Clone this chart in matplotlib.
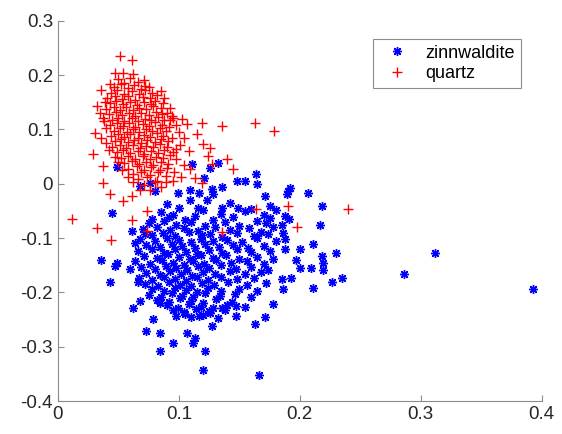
#%%
import numpy as np
from matplotlib import pyplot as plt

# %%
# Scores (x, y), one list per mineral.
# zinnwaldite: sparse outliers first, then the dense core
zinnwaldite_outer = [
    (0.049, 0.030), (0.045, -0.053), (0.068, -0.004), (0.076, 0.002), (0.080, -0.013),
    (0.111, 0.037), (0.126, 0.029), (0.132, 0.039), (0.121, 0.011), (0.148, 0.006),
    (0.155, 0.006), (0.164, 0.018), (0.165, 0.000), (0.136, -0.006), (0.127, -0.009),
    (0.109, -0.011), (0.117, -0.017), (0.128, -0.018), (0.099, -0.017), (0.109, -0.029),
    (0.123, -0.029), (0.171, -0.022), (0.190, -0.013), (0.136, -0.044), (0.149, -0.044),
    (0.116, -0.044), (0.192, -0.007), (0.189, -0.018), (0.207, -0.017), (0.218, -0.041),
    (0.188, -0.059), (0.191, -0.064), (0.217, -0.076), (0.185, -0.076), (0.186, -0.090),
    (0.188, -0.101), (0.211, -0.110), (0.188, -0.120), (0.200, -0.120), (0.230, -0.127),
    (0.218, -0.133), (0.197, -0.140), (0.219, -0.145), (0.200, -0.155), (0.209, -0.155),
    (0.219, -0.158), (0.312, -0.127), (0.286, -0.166), (0.193, -0.173), (0.235, -0.173),
    (0.227, -0.180), (0.185, -0.175), (0.211, -0.192), (0.186, -0.193), (0.393, -0.193),
    (0.098, -0.243), (0.105, -0.239), (0.117, -0.243), (0.126, -0.238), (0.136, -0.228),
    (0.147, -0.225), (0.147, -0.243), (0.178, -0.221), (0.171, -0.245), (0.163, -0.258),
    (0.127, -0.262), (0.107, -0.274), (0.113, -0.284), (0.112, -0.293), (0.095, -0.293),
    (0.122, -0.308), (0.120, -0.343), (0.166, -0.352), (0.073, -0.271), (0.084, -0.274),
    (0.084, -0.308), (0.079, -0.249), (0.036, -0.140), (0.049, -0.145), (0.047, -0.151),
    (0.043, -0.180), (0.060, -0.157), (0.066, -0.180), (0.062, -0.228), (0.068, -0.215),
    (0.084, -0.219), (0.064, -0.109), (0.061, -0.087), (0.072, -0.092),
]
zinnwaldite_core = [
    (0.090, -0.038), (0.100, -0.044), (0.142, -0.036), (0.160, -0.047), (0.175, -0.041),
    (0.085, -0.052), (0.095, -0.057), (0.120, -0.049), (0.135, -0.055), (0.155, -0.051),
    (0.170, -0.058), (0.180, -0.048),
    (0.078, -0.064), (0.092, -0.061), (0.105, -0.067), (0.113, -0.059), (0.128, -0.066),
    (0.145, -0.062), (0.165, -0.068), (0.175, -0.063),
    (0.075, -0.073), (0.088, -0.069), (0.098, -0.076), (0.110, -0.071), (0.122, -0.078),
    (0.138, -0.070), (0.150, -0.077), (0.172, -0.072),
    (0.070, -0.083), (0.082, -0.079), (0.093, -0.086), (0.104, -0.081), (0.116, -0.087),
    (0.130, -0.080), (0.142, -0.085), (0.158, -0.082), (0.168, -0.088), (0.178, -0.079),
    (0.078, -0.094), (0.087, -0.091), (0.097, -0.097), (0.108, -0.089), (0.119, -0.095),
    (0.126, -0.092), (0.136, -0.098), (0.148, -0.090), (0.162, -0.096), (0.174, -0.092),
    (0.068, -0.102), (0.080, -0.106), (0.090, -0.099), (0.100, -0.104), (0.110, -0.108),
    (0.118, -0.101), (0.128, -0.106), (0.140, -0.103), (0.152, -0.108), (0.165, -0.100),
    (0.180, -0.105),
    (0.073, -0.113), (0.084, -0.117), (0.094, -0.110), (0.103, -0.115), (0.113, -0.119),
    (0.122, -0.111), (0.133, -0.116), (0.145, -0.112), (0.157, -0.118), (0.170, -0.114),
    (0.066, -0.124), (0.078, -0.121), (0.088, -0.127), (0.097, -0.120), (0.106, -0.125),
    (0.115, -0.129), (0.125, -0.122), (0.136, -0.127), (0.148, -0.121), (0.160, -0.126),
    (0.175, -0.123),
    (0.071, -0.133), (0.082, -0.137), (0.091, -0.130), (0.100, -0.135), (0.109, -0.139),
    (0.118, -0.132), (0.128, -0.136), (0.139, -0.131), (0.150, -0.138), (0.165, -0.134),
    (0.178, -0.139),
    (0.064, -0.143), (0.076, -0.147), (0.086, -0.140), (0.095, -0.145), (0.104, -0.149),
    (0.112, -0.142), (0.121, -0.147), (0.131, -0.141), (0.143, -0.146), (0.156, -0.143),
    (0.170, -0.148),
    (0.069, -0.153), (0.080, -0.157), (0.089, -0.151), (0.098, -0.155), (0.107, -0.159),
    (0.116, -0.152), (0.125, -0.156), (0.135, -0.150), (0.147, -0.157), (0.160, -0.153),
    (0.174, -0.158),
    (0.073, -0.164), (0.084, -0.168), (0.093, -0.161), (0.102, -0.166), (0.111, -0.169),
    (0.120, -0.162), (0.130, -0.167), (0.142, -0.161), (0.155, -0.166), (0.168, -0.163),
    (0.067, -0.174), (0.078, -0.178), (0.088, -0.171), (0.097, -0.176), (0.106, -0.179),
    (0.115, -0.172), (0.124, -0.177), (0.135, -0.171), (0.148, -0.176), (0.162, -0.173),
    (0.072, -0.184), (0.083, -0.188), (0.092, -0.181), (0.101, -0.186), (0.110, -0.189),
    (0.119, -0.182), (0.129, -0.187), (0.141, -0.181), (0.156, -0.186), (0.172, -0.183),
    (0.078, -0.194), (0.088, -0.198), (0.097, -0.191), (0.106, -0.196), (0.115, -0.199),
    (0.124, -0.192), (0.135, -0.197), (0.150, -0.193), (0.165, -0.198),
    (0.075, -0.204), (0.085, -0.208), (0.094, -0.201), (0.103, -0.206), (0.112, -0.209),
    (0.122, -0.202), (0.134, -0.207), (0.146, -0.203), (0.160, -0.208),
    (0.082, -0.214), (0.092, -0.218), (0.101, -0.211), (0.110, -0.216), (0.120, -0.219),
    (0.131, -0.213), (0.144, -0.217),
    (0.090, -0.224), (0.099, -0.228), (0.108, -0.221), (0.118, -0.226), (0.128, -0.229),
    (0.140, -0.223), (0.155, -0.227),
    (0.095, -0.233), (0.104, -0.236), (0.114, -0.231), (0.125, -0.235), (0.138, -0.232),
    (0.110, -0.246), (0.120, -0.241), (0.132, -0.248),
]

# quartz: sparse outliers, then the dense core
quartz_outer = [
    (0.051, 0.236), (0.061, 0.227), (0.047, 0.204), (0.054, 0.204), (0.062, 0.203),
    (0.036, 0.173), (0.043, 0.184), (0.032, 0.144), (0.072, 0.180), (0.087, 0.149),
    (0.090, 0.131), (0.095, 0.122), (0.037, 0.122), (0.040, 0.103), (0.029, 0.055),
    (0.012, -0.064), (0.032, -0.081), (0.044, -0.103), (0.061, -0.066), (0.074, -0.087),
    (0.037, 0.033), (0.037, 0.002), (0.043, -0.018), (0.054, -0.031), (0.061, -0.022),
    (0.074, -0.050), (0.094, 0.125), (0.103, 0.120), (0.107, 0.110), (0.119, 0.112),
    (0.136, 0.107), (0.163, 0.112), (0.179, 0.098), (0.115, 0.092), (0.120, 0.074),
    (0.126, 0.066), (0.124, 0.052), (0.140, 0.046), (0.145, 0.028), (0.127, 0.037),
    (0.113, 0.011), (0.119, 0.002), (0.095, 0.006), (0.109, 0.028), (0.164, -0.046),
    (0.136, -0.088), (0.190, -0.041), (0.240, -0.046), (0.198, -0.079), (0.031, 0.094),
    (0.035, 0.130), (0.038, 0.115), (0.036, 0.085), (0.040, 0.075), (0.093, 0.117),
    (0.098, 0.108), (0.100, 0.095), (0.104, 0.085), (0.101, 0.071), (0.108, 0.060),
    (0.098, 0.045), (0.104, 0.035), (0.096, 0.021), (0.102, 0.012), (0.039, 0.150),
    (0.088, 0.158), (0.085, 0.170), (0.093, 0.140), (0.042, 0.062), (0.047, 0.050),
    (0.050, 0.040), (0.053, 0.025), (0.058, 0.012), (0.062, 0.003), (0.085, -0.006),
    (0.089, 0.004), (0.068, -0.011),
]
quartz_core = [
    (0.050, 0.193), (0.055, 0.186), (0.060, 0.195), (0.066, 0.188), (0.071, 0.191),
    (0.046, 0.178), (0.052, 0.183), (0.058, 0.176), (0.063, 0.181), (0.069, 0.175), (0.075, 0.179),
    (0.044, 0.168), (0.049, 0.172), (0.055, 0.165), (0.061, 0.170), (0.067, 0.166),
    (0.072, 0.173), (0.078, 0.167),
    (0.041, 0.158), (0.047, 0.162), (0.053, 0.156), (0.058, 0.161), (0.064, 0.155),
    (0.070, 0.160), (0.076, 0.157), (0.082, 0.163),
    (0.043, 0.148), (0.048, 0.152), (0.054, 0.146), (0.060, 0.151), (0.065, 0.145),
    (0.071, 0.150), (0.077, 0.147), (0.080, 0.153),
    (0.040, 0.138), (0.046, 0.142), (0.051, 0.136), (0.056, 0.141), (0.062, 0.135),
    (0.067, 0.140), (0.073, 0.137), (0.079, 0.143), (0.085, 0.139),
    (0.042, 0.128), (0.048, 0.132), (0.053, 0.126), (0.059, 0.131), (0.064, 0.125),
    (0.069, 0.130), (0.075, 0.127), (0.081, 0.133), (0.086, 0.128),
    (0.045, 0.118), (0.050, 0.122), (0.055, 0.116), (0.061, 0.121), (0.066, 0.115),
    (0.072, 0.120), (0.077, 0.117), (0.083, 0.123), (0.088, 0.118),
    (0.043, 0.108), (0.049, 0.112), (0.054, 0.106), (0.059, 0.111), (0.064, 0.105),
    (0.070, 0.110), (0.075, 0.107), (0.080, 0.113), (0.086, 0.108), (0.092, 0.104),
    (0.046, 0.098), (0.051, 0.102), (0.057, 0.096), (0.062, 0.101), (0.067, 0.095),
    (0.073, 0.100), (0.078, 0.097), (0.084, 0.103), (0.089, 0.098),
    (0.044, 0.088), (0.050, 0.092), (0.055, 0.086), (0.060, 0.091), (0.066, 0.085),
    (0.071, 0.090), (0.076, 0.087), (0.082, 0.093), (0.087, 0.088), (0.094, 0.084),
    (0.047, 0.078), (0.052, 0.082), (0.058, 0.076), (0.063, 0.081), (0.069, 0.075),
    (0.074, 0.080), (0.080, 0.077), (0.085, 0.083), (0.091, 0.078),
    (0.045, 0.068), (0.051, 0.072), (0.056, 0.066), (0.062, 0.071), (0.068, 0.065),
    (0.073, 0.070), (0.079, 0.067), (0.084, 0.073), (0.090, 0.068), (0.098, 0.064),
    (0.049, 0.058), (0.054, 0.062), (0.060, 0.056), (0.066, 0.061), (0.071, 0.055),
    (0.077, 0.060), (0.083, 0.057), (0.088, 0.063), (0.095, 0.058),
    (0.052, 0.048), (0.058, 0.052), (0.064, 0.046), (0.070, 0.051), (0.076, 0.045),
    (0.081, 0.050), (0.087, 0.047), (0.093, 0.053),
    (0.055, 0.038), (0.061, 0.042), (0.067, 0.036), (0.073, 0.041), (0.079, 0.035),
    (0.085, 0.040), (0.091, 0.037),
    (0.058, 0.028), (0.065, 0.032), (0.071, 0.026), (0.077, 0.031), (0.084, 0.025), (0.090, 0.029),
    (0.062, 0.018), (0.069, 0.022), (0.076, 0.016), (0.083, 0.021), (0.089, 0.015),
    (0.066, 0.008), (0.074, 0.012), (0.082, 0.006),
    (0.071, -0.002), (0.080, 0.003),
    (0.076, -0.011),
]

labels = ["zinnwaldite", "quartz"]

# %%
zinn = np.array(zinnwaldite_outer + zinnwaldite_core)
qtz = np.array(quartz_outer + quartz_core)

plt.rcParams['font.family'] = ['Liberation Sans', 'DejaVu Sans']

fig = plt.figure(figsize=(5.62, 4.34), dpi=100)
ax = fig.add_axes([0.103, 0.076, 0.861, 0.876])

# MATLAB-like asterisk for zinnwaldite, plus for quartz
ax.plot(zinn[:, 0], zinn[:, 1], linestyle="none", marker=(8, 2, 0), markersize=6.5,
        markeredgewidth=1.0, color="#0000ff", label=labels[0])
ax.plot(qtz[:, 0], qtz[:, 1], linestyle="none", marker="+", markersize=7,
        markeredgewidth=1.0, color="#ff0000", label=labels[1])

ax.set_xlim(0, 0.4)
ax.set_ylim(-0.4, 0.3)
ax.set_xticks([0, 0.1, 0.2, 0.3, 0.4])
ax.set_xticklabels(["0", "0.1", "0.2", "0.3", "0.4"])
ax.set_yticks([-0.4, -0.3, -0.2, -0.1, 0, 0.1, 0.2, 0.3])
ax.set_yticklabels(["-0.4", "-0.3", "-0.2", "-0.1", "0", "0.1", "0.2", "0.3"])

for side in ["top", "right"]:
    ax.spines[side].set_visible(False)
for side in ["left", "bottom"]:
    ax.spines[side].set_color("#8c8c8c")
ax.tick_params(direction="in", length=4, color="#8c8c8c", labelcolor="#262626",
               labelsize=13.5)

leg = ax.legend(loc="upper right", bbox_to_anchor=(0.975, 0.975), fontsize=13,
                fancybox=False, framealpha=1, edgecolor="#8c8c8c",
                handletextpad=0.6, borderpad=0.3, labelspacing=0.2)
leg.get_frame().set_linewidth(0.8)

fig.savefig("out.png", dpi=100)
